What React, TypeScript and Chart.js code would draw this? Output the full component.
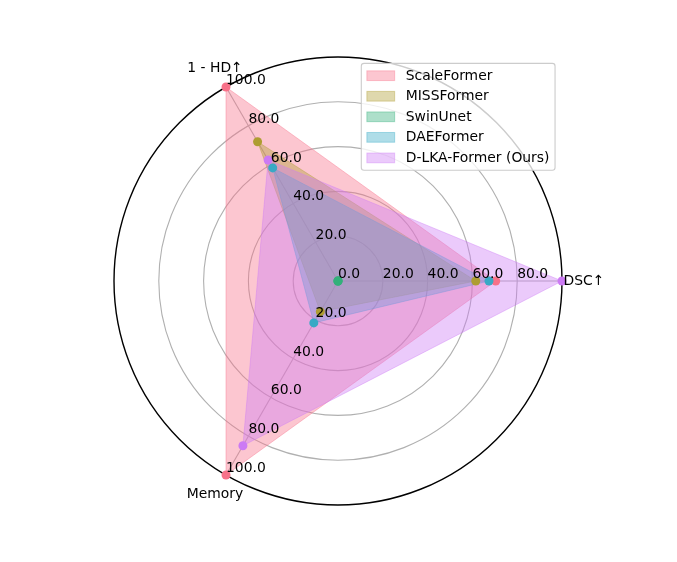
import React, { useEffect, useRef } from 'react';
import { Chart, registerables } from 'chart.js';

Chart.register(...registerables);

// ---- data ----
const axisLabels = ['DSC↑', 'Memory', '1 - HD↑'];
const seriesNames = ['ScaleFormer', 'MISSFormer', 'SwinUnet', 'DAEFormer', 'D-LKA-Former (Ours)'];
const scaleFormer = [70.4, 100, 100];
const missFormer = [61.5, 15.8, 71.8];
const swinUnet = [0, 0, 0];
const daeFormer = [67.4, 21.6, 58.3];
const dlkaFormer = [100, 84.9, 62.4];
const seriesColors = ['#f77189', '#ae9d31', '#33b07a', '#38a9c5', '#cc7af4'];
const dscTickValues = [0, 20, 40, 60, 80];
const dscTickLabels = ['0.0', '20.0', '40.0', '60.0', '80.0'];
const otherTickValues = [20, 40, 60, 80, 100];
const otherTickLabels = ['20.0', '40.0', '60.0', '80.0', '100.0'];

const allSeries = [scaleFormer, missFormer, swinUnet, daeFormer, dlkaFormer];

const FONT_SIZE = 13.9;
const FONT = `${FONT_SIZE}px "DejaVu Sans"`;

function hexA(hex: string, a: number) {
  const r = parseInt(hex.slice(1, 3), 16);
  const g = parseInt(hex.slice(3, 5), 16);
  const b = parseInt(hex.slice(5, 7), 16);
  return `rgba(${r},${g},${b},${a})`;
}

const overlayPlugin = {
  id: 'overlay',
  afterDraw(chart: any) {
    const ctx = chart.ctx as CanvasRenderingContext2D;
    const scale = chart.scales.r;
    ctx.save();
    ctx.font = FONT;
    ctx.fillStyle = '#000';

    // radial tick labels along each axis
    ctx.textAlign = 'left';
    ctx.textBaseline = 'alphabetic';
    axisLabels.forEach((_, i) => {
      const vals = i === 0 ? dscTickValues : otherTickValues;
      const labs = i === 0 ? dscTickLabels : otherTickLabels;
      vals.forEach((v, k) => {
        const p = scale.getPointPositionForValue(i, v);
        ctx.fillText(labs[k], p.x, p.y - 3);
      });
    });

    // axis (point) labels
    ctx.textAlign = 'center';
    ctx.textBaseline = 'middle';
    axisLabels.forEach((lab, i) => {
      const p = scale.getPointPosition(i, scale.drawingArea + 22);
      ctx.fillText(lab, p.x, p.y);
    });

    // legend (upper right of the polar axes box)
    const fs = FONT_SIZE;
    const pad = 0.4 * fs;
    const handleLen = 2 * fs;
    const textPad = 0.8 * fs;
    const spacing = 0.5 * fs;
    const axPad = 0.5 * fs;
    const rowH = 13.6;
    const n = seriesNames.length;
    const textW = Math.max(...seriesNames.map((s) => ctx.measureText(s).width));
    const w = pad + handleLen + textPad + textW + pad;
    const h = pad * 2 + rowH * n + spacing * (n - 1);
    const right = scale.xCenter + scale.drawingArea - axPad;
    const top = scale.yCenter - scale.drawingArea + axPad - 0.6;
    const left = right - w;
    const rr = 0.2 * fs;
    ctx.beginPath();
    ctx.moveTo(left + rr, top);
    ctx.lineTo(left + w - rr, top);
    ctx.arcTo(left + w, top, left + w, top + rr, rr);
    ctx.lineTo(left + w, top + h - rr);
    ctx.arcTo(left + w, top + h, left + w - rr, top + h, rr);
    ctx.lineTo(left + rr, top + h);
    ctx.arcTo(left, top + h, left, top + h - rr, rr);
    ctx.lineTo(left, top + rr);
    ctx.arcTo(left, top, left + rr, top, rr);
    ctx.closePath();
    ctx.fillStyle = 'rgba(255,255,255,0.8)';
    ctx.fill();
    ctx.strokeStyle = '#cccccc';
    ctx.lineWidth = 1.1;
    ctx.stroke();

    seriesNames.forEach((name, i) => {
      const cy = top + pad + rowH / 2 + i * (rowH + spacing);
      const px = left + pad;
      const ph = 0.7 * fs;
      ctx.fillStyle = hexA(seriesColors[i], 0.4);
      ctx.fillRect(px, cy - ph / 2, handleLen, ph);
      ctx.strokeStyle = hexA(seriesColors[i], 0.4);
      ctx.lineWidth = 1;
      ctx.strokeRect(px, cy - ph / 2, handleLen, ph);
      ctx.fillStyle = '#000';
      ctx.textAlign = 'left';
      ctx.textBaseline = 'middle';
      ctx.fillText(name, px + handleLen + textPad, cy + 0.5);
    });
    ctx.restore();
  },
};

export default function App() {
  const ref = useRef<HTMLCanvasElement | null>(null);
  useEffect(() => {
    if (!ref.current) return;
    const n = allSeries.length;
    // filled polygons (drawn first)
    const fillSets = allSeries.map((vals, i) => ({
      label: seriesNames[i],
      data: vals,
      backgroundColor: hexA(seriesColors[i], 0.4),
      borderColor: hexA(seriesColors[i], 0.4),
      borderWidth: 1,
      fill: true,
      pointRadius: 0,
      pointHoverRadius: 0,
      order: 2 * n - i,
    }));
    // markers (drawn on top of all fills)
    const markerSets = allSeries.map((vals, i) => ({
      label: seriesNames[i] + ' markers',
      data: vals,
      showLine: false,
      fill: false,
      borderWidth: 0,
      borderColor: seriesColors[i],
      backgroundColor: seriesColors[i],
      pointBackgroundColor: seriesColors[i],
      pointBorderColor: seriesColors[i],
      pointBorderWidth: 0,
      pointRadius: 4.5,
      pointHoverRadius: 4.5,
      order: n - i,
    }));
    const chart = new Chart(ref.current, {
      type: 'radar',
      data: {
        labels: axisLabels,
        datasets: [...fillSets, ...markerSets],
      },
      options: {
        animation: false,
        responsive: false,
        events: [],
        layout: { padding: { top: 57, bottom: 57, left: 0, right: 0 } },
        plugins: {
          legend: { display: false },
          tooltip: { enabled: false },
        },
        scales: {
          r: {
            min: 0,
            max: 100,
            startAngle: 90,
            ticks: { display: false, stepSize: 20 },
            pointLabels: { display: false },
            grid: {
              circular: true,
              color: (c: any) => (c.tick && c.tick.value === 100 ? '#000000' : '#b0b0b0'),
              lineWidth: (c: any) => (c.tick && c.tick.value === 100 ? 1.4 : 1.1),
            },
            angleLines: { display: true, color: '#b0b0b0', lineWidth: 1.1 },
          },
        },
      } as any,
      plugins: [overlayPlugin],
    });
    return () => chart.destroy();
  }, []);
  return (
    <div style={{ position: 'fixed', left: 0, top: 0, width: 677, height: 562, background: '#fff' }}>
      <canvas ref={ref} width={677} height={562} style={{ display: 'block' }} />
    </div>
  );
}
